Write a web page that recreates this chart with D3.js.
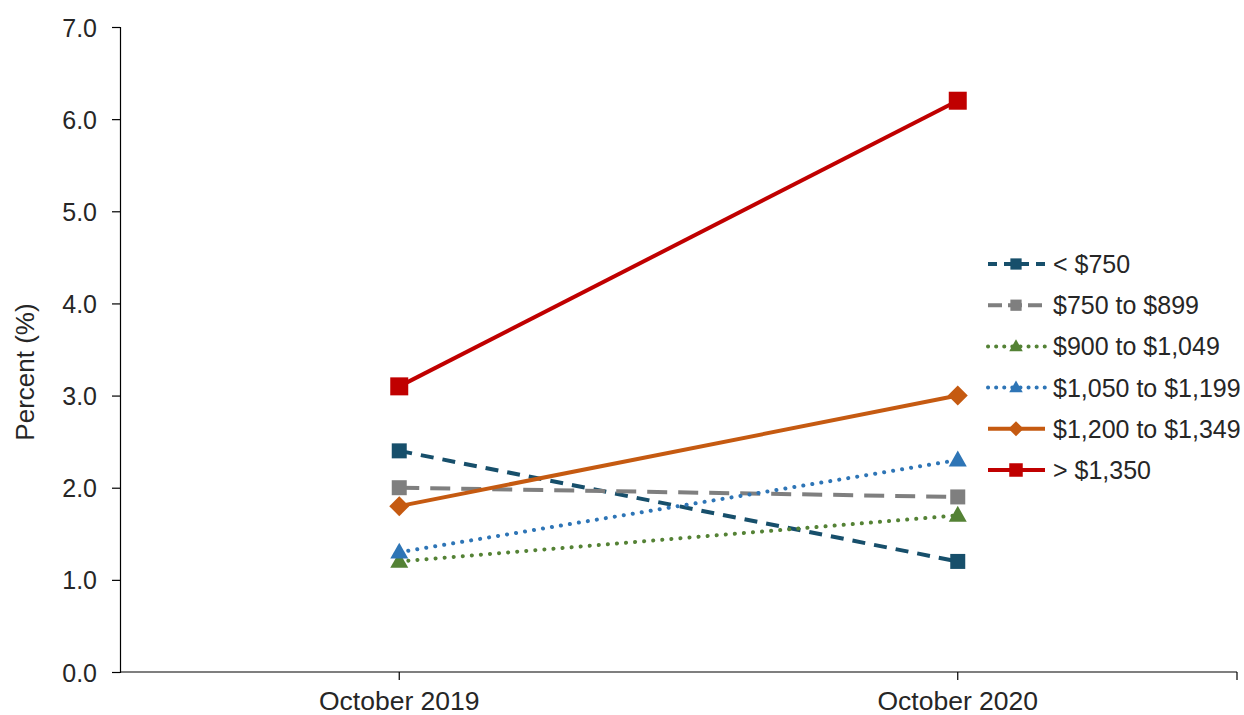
<!DOCTYPE html>
<html>
<head>
<meta charset="utf-8">
<script src="https://cdn.jsdelivr.net/npm/d3@7"></script>
<style>
  html, body { margin: 0; padding: 0; background: #ffffff; }
  svg text { font-family: "Liberation Sans", Arial, sans-serif; fill: #262626; }
</style>
</head>
<body>
<svg id="chart" width="1244" height="715"></svg>
<script>
// Rent bands and the two survey months
const periods = ["October 2019", "October 2020"];
const seriesNames = ["< $750", "$750 to $899", "$900 to $1,049", "$1,050 to $1,199", "$1,200 to $1,349", "> $1,350"];

// Percent values for each band (October 2019, October 2020)
const under750 = [2.4, 1.2];
const from750to899 = [2.0, 1.9];
const from900to1049 = [1.2, 1.7];
const from1050to1199 = [1.3, 2.3];
const from1200to1349 = [1.8, 3.0];
const over1350 = [3.1, 6.2];

const yTicks = [0, 1, 2, 3, 4, 5, 6, 7];

const styles = [
  { color: "#174f6b", dash: "13,9", legendDash: "9,7", cap: "butt", width: 4, marker: "square", size: 15 },
  { color: "#7f7f7f", dash: "20,11", legendDash: "14,6", cap: "butt", width: 4, marker: "square", size: 15 },
  { color: "#548235", dash: "0.1,9", legendDash: "0.1,8", cap: "round", width: 4, marker: "triangle", size: 18 },
  { color: "#2e75b6", dash: "0.1,9", legendDash: "0.1,8", cap: "round", width: 4, marker: "triangle", size: 18 },
  { color: "#c55a11", dash: null, legendDash: null, cap: "butt", width: 4, marker: "diamond", size: 20 },
  { color: "#c00000", dash: null, legendDash: null, cap: "butt", width: 4, marker: "square", size: 18 }
];

const series = [under750, from750to899, from900to1049, from1050to1199, from1200to1349, over1350]
  .map((vals, i) => ({ name: seriesNames[i], values: vals, style: styles[i] }));

const svg = d3.select("#chart");
const margin = { left: 120, right: 1237, top: 27, bottom: 672 };
const FONT = 25;

const x = d3.scaleBand().domain(periods).range([margin.left, margin.right]);
const y = d3.scaleLinear().domain([0, 7]).range([margin.bottom, margin.top]);

// Y axis
const yAxis = svg.append("g")
  .attr("transform", `translate(${margin.left},0)`)
  .call(d3.axisLeft(y).tickValues(yTicks).tickFormat(d3.format(".1f")).tickSize(8).tickPadding(15));
yAxis.select(".domain").attr("stroke", "#000").attr("stroke-width", 1.2);
yAxis.selectAll(".tick line").attr("stroke", "#000").attr("stroke-width", 1.2);
yAxis.selectAll(".tick text").attr("font-size", FONT).attr("dy", "0.36em").style("fill", "#262626")
  .style("font-family", "'Liberation Sans', Arial, sans-serif");

// X axis: ticks at category centres and closing tick at right end
const xAxisG = svg.append("g").attr("transform", `translate(0,${margin.bottom})`);
xAxisG.append("line")
  .attr("x1", margin.left).attr("x2", margin.right)
  .attr("stroke", "#000").attr("stroke-width", 1.2);
const xTickPos = periods.map(p => x(p) + x.bandwidth() / 2).concat([margin.right]);
xAxisG.selectAll("line.tk").data(xTickPos).join("line")
  .attr("class", "tk")
  .attr("x1", d => d).attr("x2", d => d)
  .attr("y1", 0).attr("y2", 8)
  .attr("stroke", "#000").attr("stroke-width", 1.2);
xAxisG.selectAll("text").data(periods).join("text")
  .attr("x", d => x(d) + x.bandwidth() / 2)
  .attr("y", 38)
  .attr("text-anchor", "middle")
  .attr("font-size", 26.5)
  .text(d => d);

// Y axis title
svg.append("text")
  .attr("transform", "translate(34,372) rotate(-90)")
  .attr("text-anchor", "middle")
  .attr("font-size", 26)
  .text("Percent (%)");

// Marker shapes
function markerPath(type, size) {
  const h = size / 2;
  if (type === "square") return `M${-h},${-h}H${h}V${h}H${-h}Z`;
  if (type === "diamond") return `M0,${-h}L${h},0L0,${h}L${-h},0Z`;
  // triangle
  const th = size * 0.88;
  return `M0,${-th * 0.6}L${h},${th * 0.4}L${-h},${th * 0.4}Z`;
}

const line = d3.line()
  .x((d, i) => x(periods[i]) + x.bandwidth() / 2)
  .y(d => y(d));

const plot = svg.append("g");
series.forEach(s => {
  const g = plot.append("g");
  g.append("path")
    .datum(s.values)
    .attr("d", line)
    .attr("fill", "none")
    .attr("stroke", s.style.color)
    .attr("stroke-width", s.style.width)
    .attr("stroke-linecap", s.style.cap)
    .attr("stroke-dasharray", s.style.dash);
  g.selectAll("path.mk").data(s.values).join("path")
    .attr("class", "mk")
    .attr("transform", (d, i) => `translate(${x(periods[i]) + x.bandwidth() / 2},${y(d)})`)
    .attr("d", markerPath(s.style.marker, s.style.size))
    .attr("fill", s.style.color);
});

// Legend
const legend = svg.append("g");
series.forEach((s, i) => {
  const ly = 264 + i * 41.2;
  const g = legend.append("g").attr("transform", `translate(0,${ly})`);
  g.append("line")
    .attr("x1", 988).attr("x2", 1045)
    .attr("stroke", s.style.color)
    .attr("stroke-width", s.style.width)
    .attr("stroke-linecap", s.style.cap)
    .attr("stroke-dasharray", s.style.legendDash);
  g.append("path")
    .attr("transform", "translate(1016,0)")
    .attr("d", markerPath(s.style.marker, s.style.size * 0.75))
    .attr("fill", s.style.color);
  g.append("text")
    .attr("x", 1053)
    .attr("y", 9)
    .attr("font-size", FONT)
    .text(s.name);
});
</script>
</body>
</html>
